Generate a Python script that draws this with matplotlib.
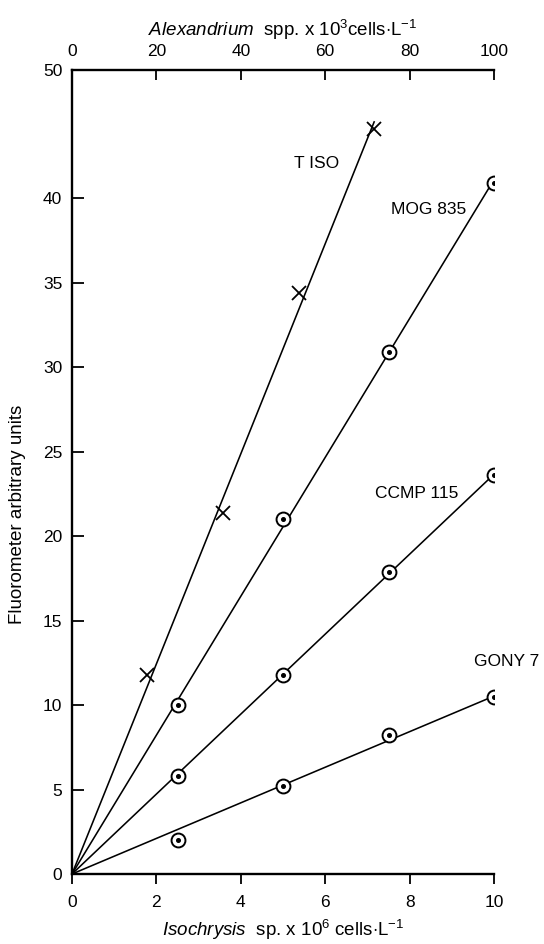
import matplotlib
matplotlib.use("Agg")
import matplotlib.pyplot as plt
import numpy as np

plt.rcParams['font.family'] = ['Liberation Sans', 'DejaVu Sans']
plt.rcParams['mathtext.fontset'] = 'custom'
plt.rcParams['mathtext.rm'] = 'Liberation Sans'
plt.rcParams['mathtext.it'] = 'Liberation Sans:italic'

# ---- data ----
# T ISO (Isochrysis sp., x 10^6 cells/L)
tiso_x = [1.77, 3.58, 5.39, 7.16]
tiso_y = [11.8, 21.4, 34.4, 44.1]
# Alexandrium strains (x 10^3 cells/L)
alex_x = [25, 50, 75, 100]
mog835_y = [10.0, 21.0, 30.9, 40.9]
ccmp115_y = [5.8, 11.8, 17.9, 23.6]
gony7_y = [2.0, 5.2, 8.2, 10.5]

strain_names = ["MOG 835", "CCMP 115", "GONY 7"]
y_ticks = [0, 5, 10, 15, 20, 25, 30, 35, 40]
x_ticks = [0, 2, 4, 6, 8, 10]
top_ticks = [0, 20, 40, 60, 80, 100]

W, H = 544, 944
fig = plt.figure(figsize=(W / 100, H / 100), dpi=100)
ax = fig.add_axes([72 / W, 1 - 874 / H, (494 - 72) / W, (874 - 70) / H])

ymax = 47.6
ax.set_xlim(0, 10)
ax.set_ylim(0, ymax)

lw = 1.15


def fit_line(xs, ys):
    xs = np.asarray(xs, float)
    ys = np.asarray(ys, float)
    slope = np.sum(xs * ys) / np.sum(xs * xs)
    xx = np.array([0, xs.max()])
    return xx, slope * xx


# T ISO
xx, yy = fit_line(tiso_x, tiso_y)
ax.plot(xx, yy, color='black', lw=lw)
ax.plot(tiso_x, tiso_y, linestyle='none', marker='x', ms=10, mew=1.3, color='black')

# Alexandrium strains
ax_x = np.array(alex_x) / 10.0
for ys in [mog835_y, ccmp115_y, gony7_y]:
    xx, yy = fit_line(ax_x, ys)
    ax.plot(xx, yy, color='black', lw=lw)
    ax.plot(ax_x, ys, linestyle='none', marker='o', ms=10, mew=1.4,
            mfc='white', mec='black')
    ax.plot(ax_x, ys, linestyle='none', marker='o', ms=2.6, color='black')

# labels
fs = 12.5
ax.text(5.79, 42.05, "T ISO", ha='center', va='center', fontsize=fs)
ax.text(8.46, 39.35, strain_names[0], ha='center', va='center', fontsize=fs)
ax.text(8.16, 22.55, strain_names[1], ha='center', va='center', fontsize=fs)
ax.text(10.3, 12.6, strain_names[2], ha='center', va='center', fontsize=fs,
        clip_on=False)

# axes styling
ax.spines['right'].set_visible(False)
ax.spines['top'].set_visible(False)
for s in ['left', 'bottom']:
    ax.spines[s].set_linewidth(1.7)

ax.set_yticks(y_ticks + [ymax])
ax.set_yticklabels([str(v) for v in y_ticks] + ["50"])
ax.tick_params(axis='y', direction='in', length=8.5, width=1.3, pad=7,
               labelsize=12.5)
ax.set_xticks(x_ticks)
ax.set_xticklabels([str(v) for v in x_ticks])
ax.tick_params(axis='x', direction='out', length=7, width=1.3, pad=8,
               labelsize=12.5)

sec = ax.secondary_xaxis('top', functions=(lambda x: x * 10, lambda x: x / 10))
sec.set_xticks(top_ticks)
sec.set_xticklabels([str(v) for v in top_ticks])
sec.tick_params(direction='in', length=7, width=1.3, pad=8, labelsize=12.5)
sec.spines['top'].set_linewidth(1.7)
sec.set_xlabel(r"$\mathit{Alexandrium}$  spp. x 10$^{3}$cells$\cdot$L$^{-1}$",
               fontsize=13.5, labelpad=6)

ax.set_xlabel(r"$\mathit{Isochrysis}$  sp. x 10$^{6}$ cells$\cdot$L$^{-1}$",
              fontsize=13.5, labelpad=6)
ax.set_ylabel("Fluorometer arbitrary units", fontsize=13.5)
ax.yaxis.set_label_coords(-0.108, 0.447)

fig.savefig("out.png", dpi=100)
